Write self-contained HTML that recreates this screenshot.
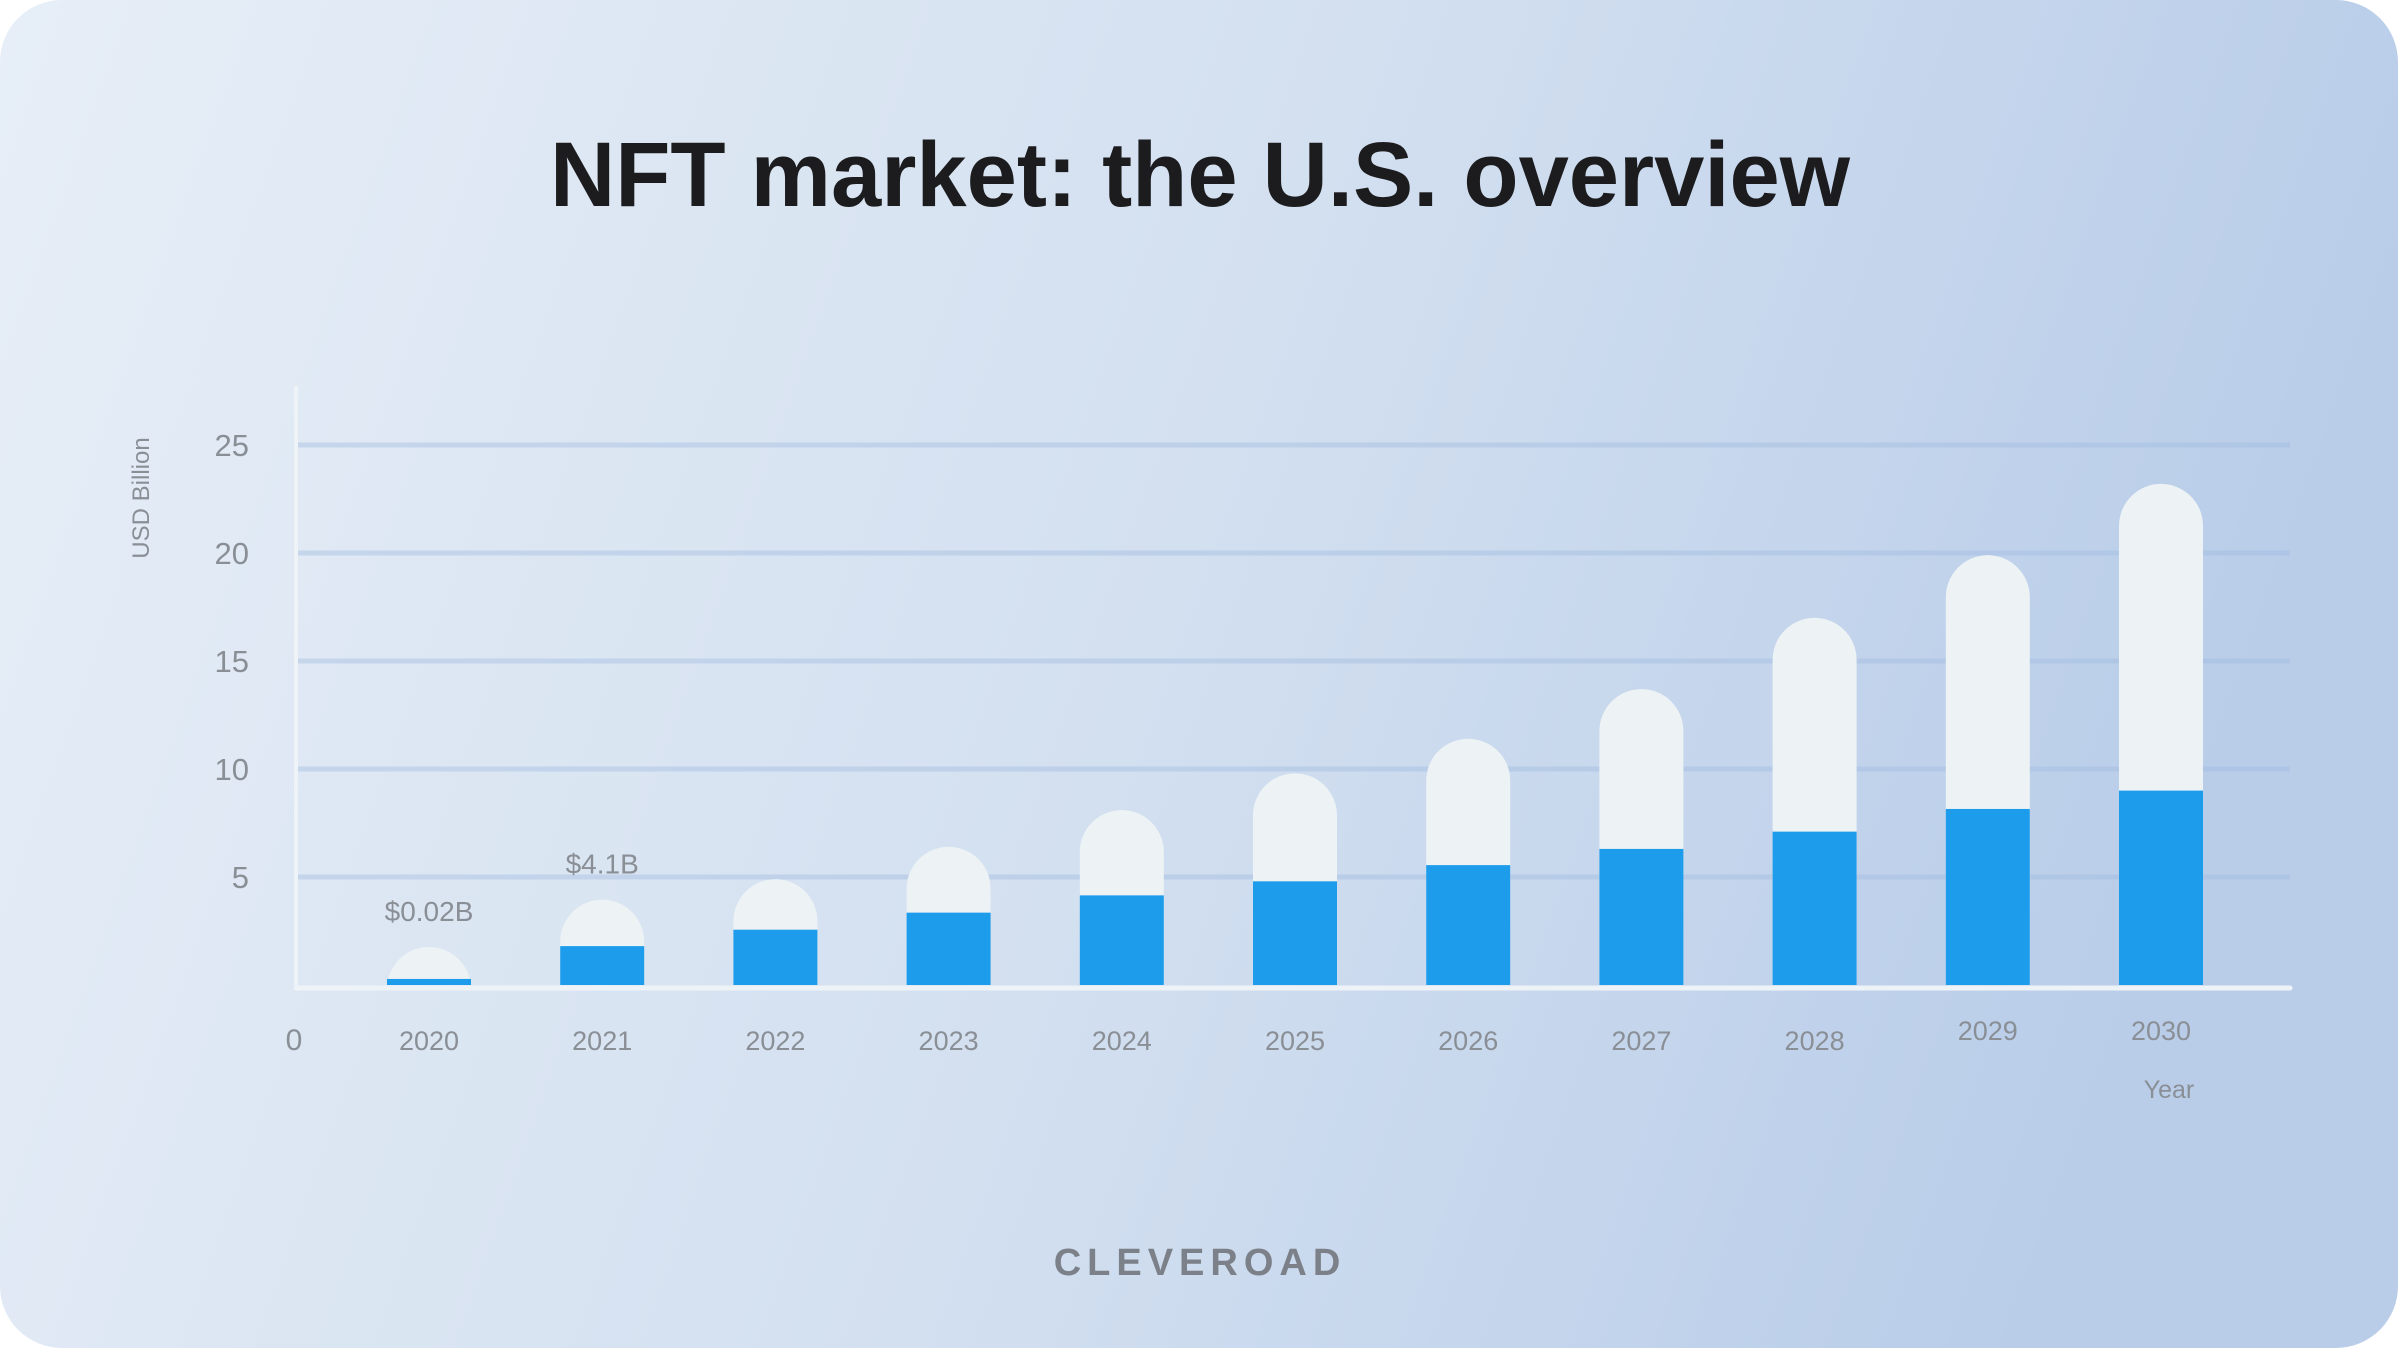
<!DOCTYPE html>
<html><head><meta charset="utf-8">
<style>
html,body{margin:0;padding:0;background:#fff;}
svg{display:block;font-family:"Liberation Sans",sans-serif;}
</style></head>
<body>
<svg id="chart" width="2400" height="1351" viewBox="0 0 2400 1351" xmlns="http://www.w3.org/2000/svg">
<defs>
<linearGradient id="bg" x1="0" y1="0" x2="1" y2="0.2">
<stop offset="0" stop-color="#e7eef7"/>
<stop offset="0.55" stop-color="#d3e0f0"/>
<stop offset="1" stop-color="#b9cde9"/>
</linearGradient>
<clipPath id="plotclip"><rect x="0" y="0" width="2400" height="985"/></clipPath>
</defs>
<rect x="0" y="0" width="2398" height="1348" rx="62" fill="url(#bg)"/>
<text x="1200" y="206" text-anchor="middle" font-size="92" font-weight="bold" fill="#1c1c1e" textLength="1300" lengthAdjust="spacingAndGlyphs">NFT market: the U.S. overview</text>
<g id="grid"></g>
<g id="bars" clip-path="url(#plotclip)"></g>
<g id="labels"></g>
<text transform="translate(149,498) rotate(-90)" text-anchor="middle" font-size="24" fill="#8a8f96">USD Billion</text>
<text x="2169" y="1098" text-anchor="middle" font-size="25" fill="#8a8f96">Year</text>
<text x="294" y="1050" text-anchor="middle" font-size="30" fill="#8a8f96">0</text>
<text x="1200" y="1275" text-anchor="middle" font-size="38" font-weight="bold" letter-spacing="6" fill="#7c8088">CLEVEROAD</text>
</svg>
<script>
const years = ["2020","2021","2022","2023","2024","2025","2026","2027","2028","2029","2030"];
const usValues = [0.28, 1.8, 2.56, 3.35, 4.15, 4.8, 5.55, 6.3, 7.1, 8.15, 9.0];
const totalValues = [1.76, 3.95, 4.9, 6.4, 8.1, 9.8, 11.4, 13.7, 17.0, 19.9, 23.2];
const yTicks = [5, 10, 15, 20, 25];
const valueLabels = ["$0.02B", "$4.1B", "", "", "", "", "", "", "", "", ""];

const NS = "http://www.w3.org/2000/svg";
const y0 = 985, pxPerUnit = 21.6;
const xFirst = 429, xStep = 173.2, barW = 84, r = 42;
function yScale(v){ return y0 - v * pxPerUnit; }
function xScale(i){ return xFirst + i * xStep; }
function mk(tag, attrs, parent){
  const el = document.createElementNS(NS, tag);
  for (const k in attrs) el.setAttribute(k, attrs[k]);
  parent.appendChild(el);
  return el;
}
const grid = document.getElementById('grid');
const bars = document.getElementById('bars');
const labels = document.getElementById('labels');

yTicks.forEach(t => {
  const gl = mk('line', {x1:298, x2:2290, y1:yScale(t), y2:yScale(t), stroke:'#9db8de', 'stroke-opacity':0.4, 'stroke-width':5}, grid);
  
  
  const tl = mk('text', {x:249, y:yScale(t)+11, 'text-anchor':'end', 'font-size':31, fill:'#8a8f96'}, grid);
  tl.textContent = t;
  
  
});
const ya = mk('line', {x1:296, x2:296, y1:386, y2:987, stroke:'#eef3f8', 'stroke-width':4}, grid);



years.forEach((yr, i) => {
  const cx = xScale(i);
  const top = yScale(totalValues[i]);
  const tb = mk('rect', {x:cx-barW/2, y:top, width:barW, height:(y0-top)+r+5, rx:r, ry:r, fill:'#edf2f5'}, bars);
  
  
  const bt = yScale(usValues[i]);
  const ub = mk('rect', {x:cx-barW/2, y:bt, width:barW, height:y0-bt, fill:'#1e9cec'}, bars);
  
  
  const ly = (i >= 9) ? 1040 : 1050;
  const xl = mk('text', {x:cx, y:ly, 'text-anchor':'middle', 'font-size':27, fill:'#8a8f96'}, labels);
  xl.textContent = yr;
  
  
  if (valueLabels[i]) {
    const vl = mk('text', {x:cx, y:top-26, 'text-anchor':'middle', 'font-size':28, fill:'#8a8f96'}, labels);
    vl.textContent = valueLabels[i];
    
    
  }
});
const xa = mk('line', {x1:296, x2:2290, y1:988, y2:988, stroke:'#eef3f8', 'stroke-width':5, 'stroke-linecap':'round'}, labels);


</script>
</body></html>
